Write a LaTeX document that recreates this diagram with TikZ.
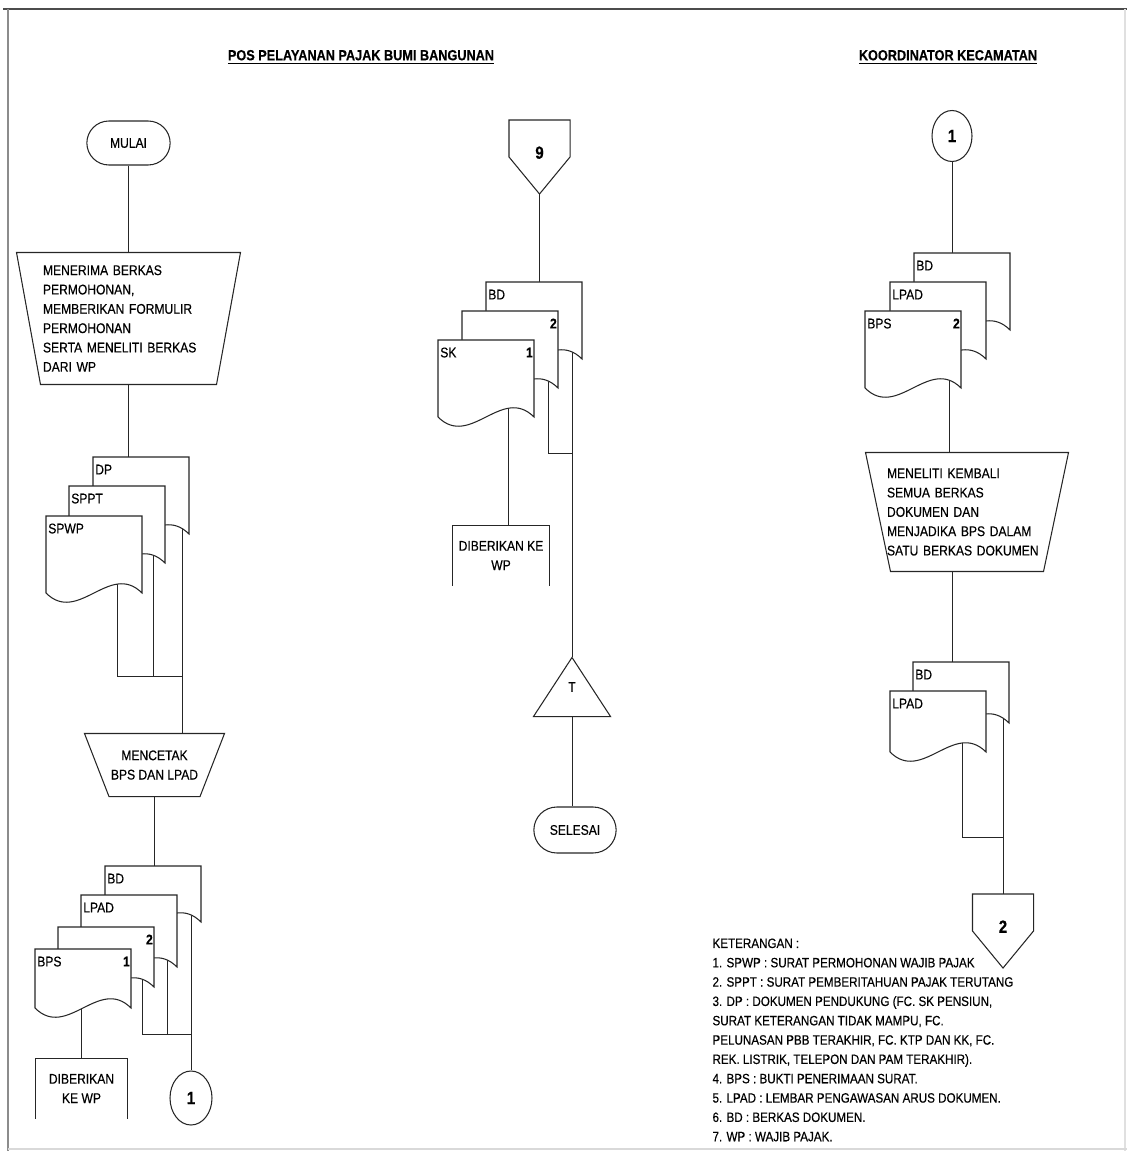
\documentclass[tikz,border=0pt]{standalone}
\usepackage{fontspec}
\setmainfont{Liberation Sans}[FakeStretch=0.86, FakeBold=0.4]
\usetikzlibrary{shapes.geometric, shapes.misc, positioning, calc, backgrounds}

\hyphenpenalty=10000
\exhyphenpenalty=10000
\newcommand{\flowfont}{\fontsize{8}{11}\selectfont}
\newcommand{\ketfont}{\fontsize{7.7}{11}\selectfont}
\newcommand{\numfont}{\bfseries\fontsize{10}{12}\selectfont}

%% lembar dokumen: nama, pojok kiri atas, tinggi (px), label kiri, label kanan, x garis keluar
\newcommand{\docsheet}[6]{%
  \begin{scope}[shift={#2}]
    \filldraw[docline] (0,0) -- (96,0) -- (96,#3)
      .. controls (64,#3-32) and (32,#3+32) .. (0,#3) -- cycle;
  \end{scope}
  \pgfmathsetlengthmacro\docdp{#3*0.02cm-10.6pt}%
  \node[docbox, minimum height=#3*0.02cm, text depth=\docdp] (#1) at #2
    {#4\hfill\textbf{#5}\hspace*{3pt}};
  \coordinate (#1-out) at ($(#1.south west)+(#6,-20)$);
}

\begin{document}
\begin{tikzpicture}[
  x=0.02cm, y=-0.02cm, line width=0.6pt,
  docline/.style={draw=black!85, fill=white, line width=0.6pt},
  docbox/.style={rectangle, anchor=north west, minimum width=1.92cm, text width=1.85cm,
                 inner xsep=1pt, inner ysep=1pt, text height=8.6pt, font=\flowfont},
  terminal/.style={rounded rectangle, draw=black!85, minimum width=1.9cm,
                   minimum height=0.88cm, font=\flowfont},
  manop/.style={rectangle, inner ysep=0pt, font=\flowfont},
  offpage/.style={rectangle, minimum width=1.2cm, minimum height=1.46cm, font=\numfont},
  onpage/.style={ellipse, draw=black!85, inner sep=0pt, font=\numfont},
  outbox/.style={rectangle, minimum width=1.82cm, minimum height=1.18cm,
                 align=center, font=\flowfont},
  mergebox/.style={rectangle, minimum width=1.52cm, minimum height=1.16cm, font=\flowfont},
  title/.style={font=\bfseries\fontsize{8.4}{11}\selectfont},
  shapeline/.style={draw=black!85},
  flow/.style={draw=black!85}
]
\useasboundingbox (0,0) rectangle (1127,1151);

%% bingkai
\draw[black!70, line width=1.2pt] (3,9) -- (1127,9);
\draw[black!45] (8,9) -- (8,1151);
\draw[black!12] (1125,9) -- (1125,1151);
\draw[black!15] (8,1149) -- (1127,1149);

%% judul
\node[title] (tpos)  at (361,57) {\underline{POS PELAYANAN PAJAK BUMI BANGUNAN}};
\node[title] (tkoor) at (948,57) {\underline{KOORDINATOR KECAMATAN}};

%% kolom kiri: pos pelayanan
\node[terminal] (mulai) at (128.5,143) {MULAI};

\node[manop, minimum width=4.46cm, minimum height=2.62cm, text width=3.42cm,
      inner xsep=0.52cm, align=left] (terima) at (128.5,318.5)
  {MENERIMA BERKAS\\PERMOHONAN,\\MEMBERIKAN FORMULIR\\PERMOHONAN\\SERTA MENELITI BERKAS\\DARI WP};
\draw[shapeline] (terima.north west) -- (terima.north east)
  -- ([xshift=-0.48cm]terima.south east) -- ([xshift=0.48cm]terima.south west) -- cycle;

\docsheet{dp}{(93,457)}{77}{DP}{}{89}
\docsheet{sppt}{(69,486)}{77}{SPPT}{}{84}
\docsheet{spwp}{(46,516)}{77}{SPWP}{}{71}
\coordinate (jA) at (182,676);

\node[manop, minimum width=2.78cm, minimum height=1.24cm, align=center] (cetak)
  at (154.5,765) {MENCETAK\\BPS DAN LPAD};
\draw[shapeline] (cetak.north west) -- (cetak.north east)
  -- ([xshift=-0.49cm]cetak.south east) -- ([xshift=0.49cm]cetak.south west) -- cycle;

\docsheet{bd1}{(105,866)}{56}{BD}{}{86}
\docsheet{lpad1}{(81,895)}{72}{LPAD}{}{86}
\docsheet{dua1}{(58,927)}{60}{}{2}{84}
\docsheet{bps1}{(35,949)}{59}{BPS}{1}{46}
\coordinate (jB) at (191,1034);

\node[outbox] (wp1) at (81.5,1088.5) {DIBERIKAN\\KE WP};
\draw[shapeline] (wp1.south west) -- (wp1.north west) -- (wp1.north east) -- (wp1.south east);
\node[onpage, minimum width=0.84cm, minimum height=1.08cm] (con1a) at (191,1098) {1};

%% kolom tengah
\node[offpage] (p9) at (539.5,157) {\raisebox{5pt}{9}};
\draw[shapeline] (p9.north west) -- (p9.north east) -- ($(p9.north east)+(0,37)$)
  -- (p9.south) -- ($(p9.north west)+(0,37)$) -- cycle;

\docsheet{bd2}{(486,282)}{77}{BD}{}{86}
\docsheet{dua2}{(462,311)}{77}{}{2}{86}
\docsheet{sk}{(438,340)}{77}{SK}{1}{70}
\coordinate (jC) at (572,453);

\node[outbox, minimum width=1.8cm] (wp2) at (501,555.5) {DIBERIKAN KE\\WP};
\draw[shapeline] (wp2.south west) -- (wp2.north west) -- (wp2.north east) -- (wp2.south east);

\node[mergebox] (tri) at (572,687) {\raisebox{-5.5pt}{T}};
\draw[shapeline] (tri.south west) -- (tri.north) -- (tri.south east) -- cycle;

\node[terminal, minimum width=1.88cm, minimum height=0.92cm] (selesai) at (575,830) {SELESAI};

%% kolom kanan: koordinator kecamatan
\node[onpage, minimum width=0.8cm, minimum height=1.02cm] (con1b) at (952,136) {1};

\docsheet{bd3}{(914,253)}{77}{BD}{}{86}
\docsheet{lpad3}{(890,282)}{77}{LPAD}{}{86}
\docsheet{bps3}{(865,311)}{77}{BPS}{2}{84}

\node[manop, minimum width=4.04cm, minimum height=2.36cm, text width=3.2cm,
      inner xsep=0.42cm, align=left] (teliti) at (967,512)
  {MENELITI KEMBALI\\SEMUA BERKAS\\DOKUMEN DAN\\MENJADIKA BPS DALAM\\SATU BERKAS DOKUMEN};
\draw[shapeline] (teliti.north west) -- (teliti.north east)
  -- ([xshift=-0.5cm]teliti.south east) -- ([xshift=0.5cm]teliti.south west) -- cycle;

\docsheet{bd4}{(913,662)}{61}{BD}{}{90}
\docsheet{lpad4}{(890,691)}{61}{LPAD}{}{72}
\coordinate (jD) at (1003,837);

\node[offpage] (p2) at (1003,931) {\raisebox{5pt}{2}};
\draw[shapeline] (p2.north west) -- (p2.north east) -- ($(p2.north east)+(0,37)$)
  -- (p2.south) -- ($(p2.north west)+(0,37)$) -- cycle;

%% keterangan
\node[anchor=north west, align=left, inner sep=0pt, font=\ketfont] (ket) at (712,938)
  {KETERANGAN :\\
   1. SPWP : SURAT PERMOHONAN WAJIB PAJAK\\
   2. SPPT : SURAT PEMBERITAHUAN PAJAK TERUTANG\\
   3. DP : DOKUMEN PENDUKUNG (FC. SK PENSIUN,\\
   SURAT KETERANGAN TIDAK MAMPU, FC.\\
   PELUNASAN PBB TERAKHIR, FC. KTP DAN KK, FC.\\
   REK. LISTRIK, TELEPON DAN PAM TERAKHIR).\\
   4. BPS : BUKTI PENERIMAAN SURAT.\\
   5. LPAD : LEMBAR PENGAWASAN ARUS DOKUMEN.\\
   6. BD : BERKAS DOKUMEN.\\
   7. WP : WAJIB PAJAK.};

%% garis alir (di belakang dokumen)
\begin{pgfonlayer}{background}
\draw[flow] (mulai.south) -- (terima.north);
\draw[flow] (terima.south) -- (terima.south |- dp.north);
\draw[flow] (spwp-out) |- (jA);
\draw[flow] (sppt-out) |- (jA);
\draw[flow] (dp-out) -- (jA |- cetak.north);
\draw[flow] (cetak.south) -- (cetak.south |- bd1.north);
\draw[flow] (bps1-out) -- (bps1-out |- wp1.north);
\draw[flow] (dua1-out) |- (jB);
\draw[flow] (lpad1-out) |- (jB);
\draw[flow] (bd1-out) -- (bd1-out |- con1a.north);

\draw[flow] (p9.south) -- (p9.south |- bd2.north);
\draw[flow] (sk-out) -- (sk-out |- wp2.north);
\draw[flow] (dua2-out) |- (jC);
\draw[flow] (bd2-out) -- (bd2-out |- tri.north);
\draw[flow] (tri.south) -- (tri.south |- selesai.north);

\draw[flow] (con1b.south) -- (con1b.south |- bd3.north);
\draw[flow] (bps3-out) -- (bps3-out |- teliti.north);
\draw[flow] (con1b.south |- teliti.south) -- (con1b.south |- bd4.north);
\draw[flow] (lpad4-out) |- (jD);
\draw[flow] (bd4-out) -- (bd4-out |- p2.north);
\end{pgfonlayer}

\end{tikzpicture}
\end{document}
